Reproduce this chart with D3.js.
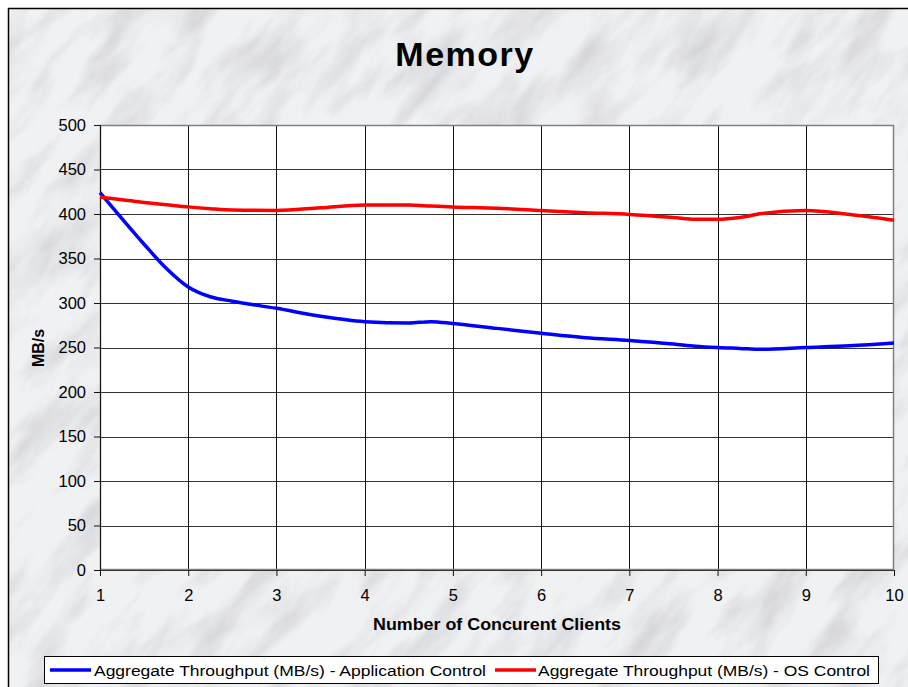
<!DOCTYPE html>
<html>
<head>
<meta charset="utf-8">
<script src="https://cdn.jsdelivr.net/npm/d3@7"></script>
<style>
  body { margin: 0; background: #fff; }
  svg { display: block; font-family: "Liberation Sans", Arial, sans-serif; }
</style>
</head>
<body>
<div id="wrapper"></div>
<script>
// number of concurrent clients
const clients = [1, 1.5, 1.75, 2, 2.25, 2.5, 3, 3.5, 4, 4.5, 4.75, 5, 5.5, 6, 6.5, 7, 7.5, 7.75, 8, 8.25, 8.5, 9, 9.5, 10]
// aggregate throughput (MB/s) - application control
const appControl = [424, 366, 339, 318, 307, 302, 294, 285, 279, 277.5, 279, 277, 271.5, 266, 261, 258, 254, 251.5, 250, 249, 248, 250, 252, 255]
// aggregate throughput (MB/s) - OS control
const osControl = [419, 413, 410.5, 408, 406, 404.5, 404, 407, 410, 410, 409, 408, 406.5, 404, 401.5, 399.5, 396, 394, 394, 396, 400.5, 404, 399.5, 393]

const xTicks = [1, 2, 3, 4, 5, 6, 7, 8, 9, 10]
const yTicks = [0, 50, 100, 150, 200, 250, 300, 350, 400, 450, 500]

const seriesNames = [
  "Aggregate Throughput (MB/s) - Application Control",
  "Aggregate Throughput (MB/s) - OS Control"
]
const seriesColors = ["#0000ff", "#ff0000"]

function drawChart() {
  const dimensions = {
    width: 908,
    height: 687,
    margin: { top: 125, right: 14, bottom: 117, left: 100 }
  }
  dimensions.boundedWidth = dimensions.width - dimensions.margin.left - dimensions.margin.right
  dimensions.boundedHeight = dimensions.height - dimensions.margin.top - dimensions.margin.bottom

  const wrapper = d3.select("#wrapper")
    .append("svg")
      .attr("width", dimensions.width)
      .attr("height", dimensions.height)

  // marble-ish background
  const defs = wrapper.append("defs")
  const filter = defs.append("filter")
    .attr("id", "marble")
    .attr("x", 0).attr("y", 0).attr("width", "100%").attr("height", "100%")
  filter.append("feTurbulence")
    .attr("type", "fractalNoise")
    .attr("baseFrequency", "0.01 0.03")
    .attr("numOctaves", 5)
    .attr("seed", 7)
  filter.append("feColorMatrix")
    .attr("type", "matrix")
    .attr("values", "0 0 0 0 0.5  0 0 0 0 0.5  0 0 0 0 0.53  -2.6 0 0 0 1.45")

  wrapper.append("rect")
    .attr("x", 8.5).attr("y", 8.5)
    .attr("width", 920).attr("height", 700)
    .attr("fill", "#f0f1f3")

  const clip = defs.append("clipPath").attr("id", "bgclip")
  clip.append("rect").attr("x", 9).attr("y", 9).attr("width", 920).attr("height", 700)

  wrapper.append("g")
    .attr("clip-path", "url(#bgclip)")
    .append("rect")
      .attr("x", -400).attr("y", -400)
      .attr("width", 1800).attr("height", 1600)
      .attr("filter", "url(#marble)")
      .attr("opacity", 0.5)
      .attr("transform", "rotate(-50 454 343)")

  wrapper.append("rect")
    .attr("x", 8.5).attr("y", 8.5)
    .attr("width", 920).attr("height", 700)
    .attr("fill", "none")
    .attr("stroke", "#000")
    .attr("stroke-width", 1.5)

  // title
  wrapper.append("text")
    .attr("x", 465)
    .attr("y", 66)
    .attr("text-anchor", "middle")
    .style("font-size", "34px")
    .style("font-weight", "bold")
    .style("letter-spacing", "1.5px")
    .text("Memory")

  const bounds = wrapper.append("g")
    .attr("transform", `translate(${dimensions.margin.left}, ${dimensions.margin.top})`)

  const xScale = d3.scaleLinear()
    .domain([1, 10])
    .range([0, dimensions.boundedWidth])

  const yScale = d3.scaleLinear()
    .domain([0, 500])
    .range([dimensions.boundedHeight, 0])

  // plot area
  bounds.append("rect")
    .attr("width", dimensions.boundedWidth)
    .attr("height", dimensions.boundedHeight)
    .attr("fill", "#fff")

  // gridlines
  bounds.append("g")
    .selectAll("line")
    .data(yTicks.slice(1))
    .join("line")
      .attr("x1", 0)
      .attr("x2", dimensions.boundedWidth)
      .attr("y1", d => Math.round(yScale(d)) + 0.5)
      .attr("y2", d => Math.round(yScale(d)) + 0.5)
      .attr("stroke", "#333")

  bounds.append("g")
    .selectAll("line")
    .data(xTicks.slice(1, -1))
    .join("line")
      .attr("x1", d => Math.round(xScale(d)) + 0.5)
      .attr("x2", d => Math.round(xScale(d)) + 0.5)
      .attr("y1", 0)
      .attr("y2", dimensions.boundedHeight)
      .attr("stroke", "#111")

  // frame
  bounds.append("rect")
    .attr("x", 0.5).attr("y", 0.5)
    .attr("width", dimensions.boundedWidth - 1)
    .attr("height", dimensions.boundedHeight - 1)
    .attr("fill", "none")
    .attr("stroke", "#808080")
    .attr("stroke-width", 1.5)

  // axes
  const xAxisGenerator = d3.axisBottom(xScale)
    .tickValues(xTicks)
    .tickFormat(d3.format("d"))
    .tickSize(6)
    .tickPadding(13)

  const xAxis = bounds.append("g")
    .attr("transform", `translate(0, ${dimensions.boundedHeight})`)
    .call(xAxisGenerator)
  xAxis.select(".domain").attr("stroke", "#333")
  xAxis.selectAll(".tick line").attr("stroke", "#111")
  xAxis.selectAll("text")
    .style("font-size", "16.5px")
    .style("font-family", "'Liberation Sans', Arial, sans-serif")
    .attr("fill", "#000")

  const yAxisGenerator = d3.axisLeft(yScale)
    .tickValues(yTicks)
    .tickSize(6)
    .tickPadding(8)

  const yAxis = bounds.append("g")
    .call(yAxisGenerator)
  yAxis.select(".domain").attr("stroke", "#111")
  yAxis.selectAll(".tick line").attr("stroke", "#111")
  yAxis.selectAll("text")
    .style("font-size", "16.5px")
    .style("font-family", "'Liberation Sans', Arial, sans-serif")
    .attr("fill", "#000")

  // axis titles
  wrapper.append("text")
    .attr("x", 497)
    .attr("y", 630)
    .attr("text-anchor", "middle")
    .attr("textLength", 248)
    .attr("lengthAdjust", "spacingAndGlyphs")
    .style("font-size", "16px")
    .style("font-weight", "bold")
    .text("Number of Concurent Clients")

  wrapper.append("text")
    .attr("transform", "translate(44, 348) rotate(-90)")
    .attr("text-anchor", "middle")
    .style("font-size", "16px")
    .style("font-weight", "bold")
    .text("MB/s")

  // lines
  const lineGenerator = d3.line()
    .x(d => xScale(d[0]))
    .y(d => yScale(d[1]))
    .curve(d3.curveMonotoneX)

  const series = [appControl, osControl]
  series.forEach((values, i) => {
    bounds.append("path")
      .datum(clients.map((c, j) => [c, values[j]]))
      .attr("d", lineGenerator)
      .attr("fill", "none")
      .attr("stroke", seriesColors[i])
      .attr("stroke-width", 3.5)
      .attr("stroke-linejoin", "round")
  })

  // legend
  const legend = wrapper.append("g")
  legend.append("rect")
    .attr("x", 44.5).attr("y", 656.5)
    .attr("width", 834).attr("height", 27)
    .attr("fill", "#fff")
    .attr("stroke", "#000")

  const legendItems = [
    { x1: 50, x2: 91, tx: 94, tw: 392 },
    { x1: 495, x2: 536, tx: 538, tw: 332 }
  ]
  legendItems.forEach((item, i) => {
    legend.append("line")
      .attr("x1", item.x1).attr("x2", item.x2)
      .attr("y1", 670).attr("y2", 670)
      .attr("stroke", seriesColors[i])
      .attr("stroke-width", 3.5)
    legend.append("text")
      .attr("x", item.tx)
      .attr("y", 675.5)
      .attr("textLength", item.tw)
      .attr("lengthAdjust", "spacingAndGlyphs")
      .style("font-size", "15.5px")
      .text(seriesNames[i])
  })
}

drawChart()
</script>
</body>
</html>
